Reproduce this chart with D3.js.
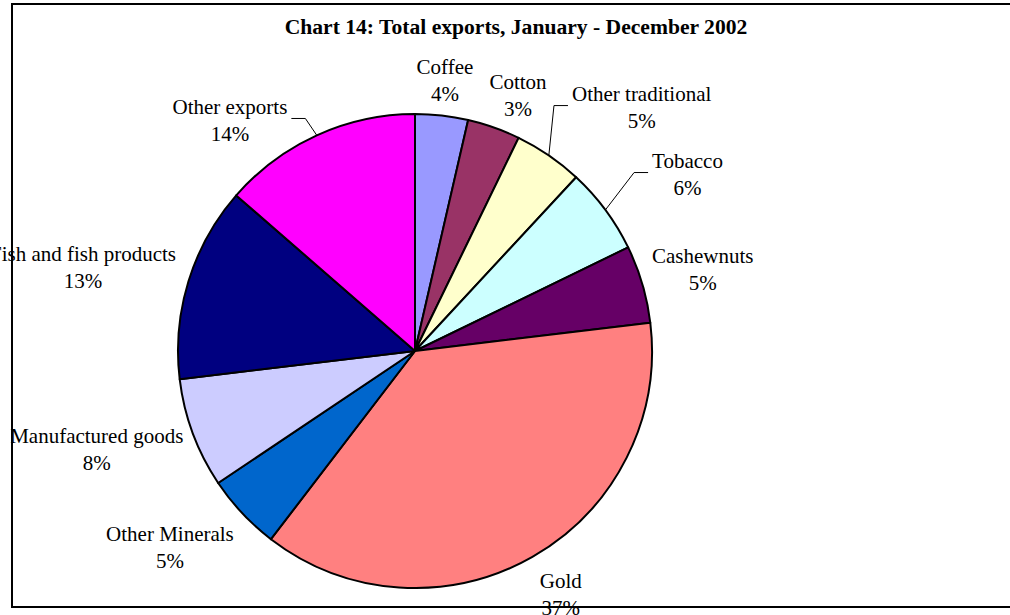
<!DOCTYPE html>
<html>
<head>
<meta charset="utf-8">
<script src="https://cdn.jsdelivr.net/npm/d3@7"></script>
<style>
  body { margin: 0; background: #fff; overflow: hidden; }
  text { font-family: "Liberation Serif", "Times New Roman", serif; fill: #000; }
</style>
</head>
<body>
<div id="chart"></div>
<script>
// chart data
var categories = ["Coffee", "Cotton", "Other traditional", "Tobacco", "Cashewnuts",
                  "Gold", "Other Minerals", "Manufactured goods", "Fish and fish products", "Other exports"];
var shares = [3.6, 3.6, 4.7, 5.9, 5.3, 37.3, 5.2, 7.5, 13.3, 13.6];
var pctLabels = ["4%", "3%", "5%", "6%", "5%", "37%", "5%", "8%", "13%", "14%"];
var colors = ["#9999FF", "#993366", "#FFFFCC", "#CCFFFF", "#660066",
              "#FF8080", "#0066CC", "#CCCCFF", "#000080", "#FF00FF"];

// where each label sits (polar, from pie centre): angle in degrees, radius as a factor of pie radius
var labelAngle = [6.3, 21.9, 42.9, 57.0, 74.1, 149.0, 231.3, 252.9, 284.2, 321.3];
var labelDist = [1.152, 1.165, 1.405, 1.371, 1.262, 1.194, 1.325, 1.405, 1.445, 1.249];
var hasLeader = [false, false, true, true, false, false, false, false, false, true];

var width = 1010, height = 615;
var cx = 415, cy = 351, radius = 237;

var svg = d3.select("#chart").append("svg")
    .attr("width", width)
    .attr("height", height);

// outer frame
svg.append("rect")
    .attr("x", 12).attr("y", 4)
    .attr("width", 1010).attr("height", 603)
    .attr("fill", "none")
    .attr("stroke", "#000")
    .attr("stroke-width", 2);

// title
svg.append("text")
    .attr("x", 516)
    .attr("y", 34)
    .attr("text-anchor", "middle")
    .style("font-size", "21.6px")
    .style("font-weight", "bold")
    .text("Chart 14: Total exports, January - December 2002");

var pie = d3.pie().sort(null).value(function(d) { return d; });
var arcs = pie(shares);
var arc = d3.arc().innerRadius(0).outerRadius(radius);

var g = svg.append("g")
    .attr("transform", "translate(" + cx + "," + cy + ")");

g.selectAll("path.slice")
    .data(arcs)
  .enter().append("path")
    .attr("class", "slice")
    .attr("d", arc)
    .attr("fill", function(d, i) { return colors[i]; })
    .attr("stroke", "#000")
    .attr("stroke-width", 2)
    .attr("stroke-linejoin", "round");

function polar(angDeg, r) {
  var a = angDeg * Math.PI / 180;
  return [r * Math.sin(a), -r * Math.cos(a)];
}

// labels
var labels = g.selectAll("g.label")
    .data(arcs)
  .enter().append("g")
    .attr("class", "label")
    .attr("transform", function(d, i) {
      var p = polar(labelAngle[i], labelDist[i] * radius);
      return "translate(" + p[0] + "," + p[1] + ")";
    });

labels.append("text")
    .attr("text-anchor", "middle")
    .attr("y", -6)
    .style("font-size", "21px")
    .text(function(d, i) { return categories[i]; });

labels.append("text")
    .attr("text-anchor", "middle")
    .attr("y", 21)
    .style("font-size", "21px")
    .text(function(d, i) { return pctLabels[i]; });

// leader lines for the dragged labels
labels.each(function(d, i) {
  if (!hasLeader[i]) return;
  var box = this.getBBox();
  var p = polar(labelAngle[i], labelDist[i] * radius);
  var mid = (d.startAngle + d.endAngle) / 2 * 180 / Math.PI;
  var start = polar(mid, radius);
  var right = p[0] > 0;
  var endX = right ? p[0] + box.x - 4 : p[0] + box.x + box.width + 4;
  var endY = p[1] + box.y + box.height / 2 - 2;
  var bendX = right ? endX - 14 : endX + 14;
  g.append("polyline")
      .attr("points", [start, [bendX, endY], [endX, endY]].map(function(q) { return q.join(","); }).join(" "))
      .attr("fill", "none")
      .attr("stroke", "#000")
      .attr("stroke-width", 1);
});
</script>
</body>
</html>
